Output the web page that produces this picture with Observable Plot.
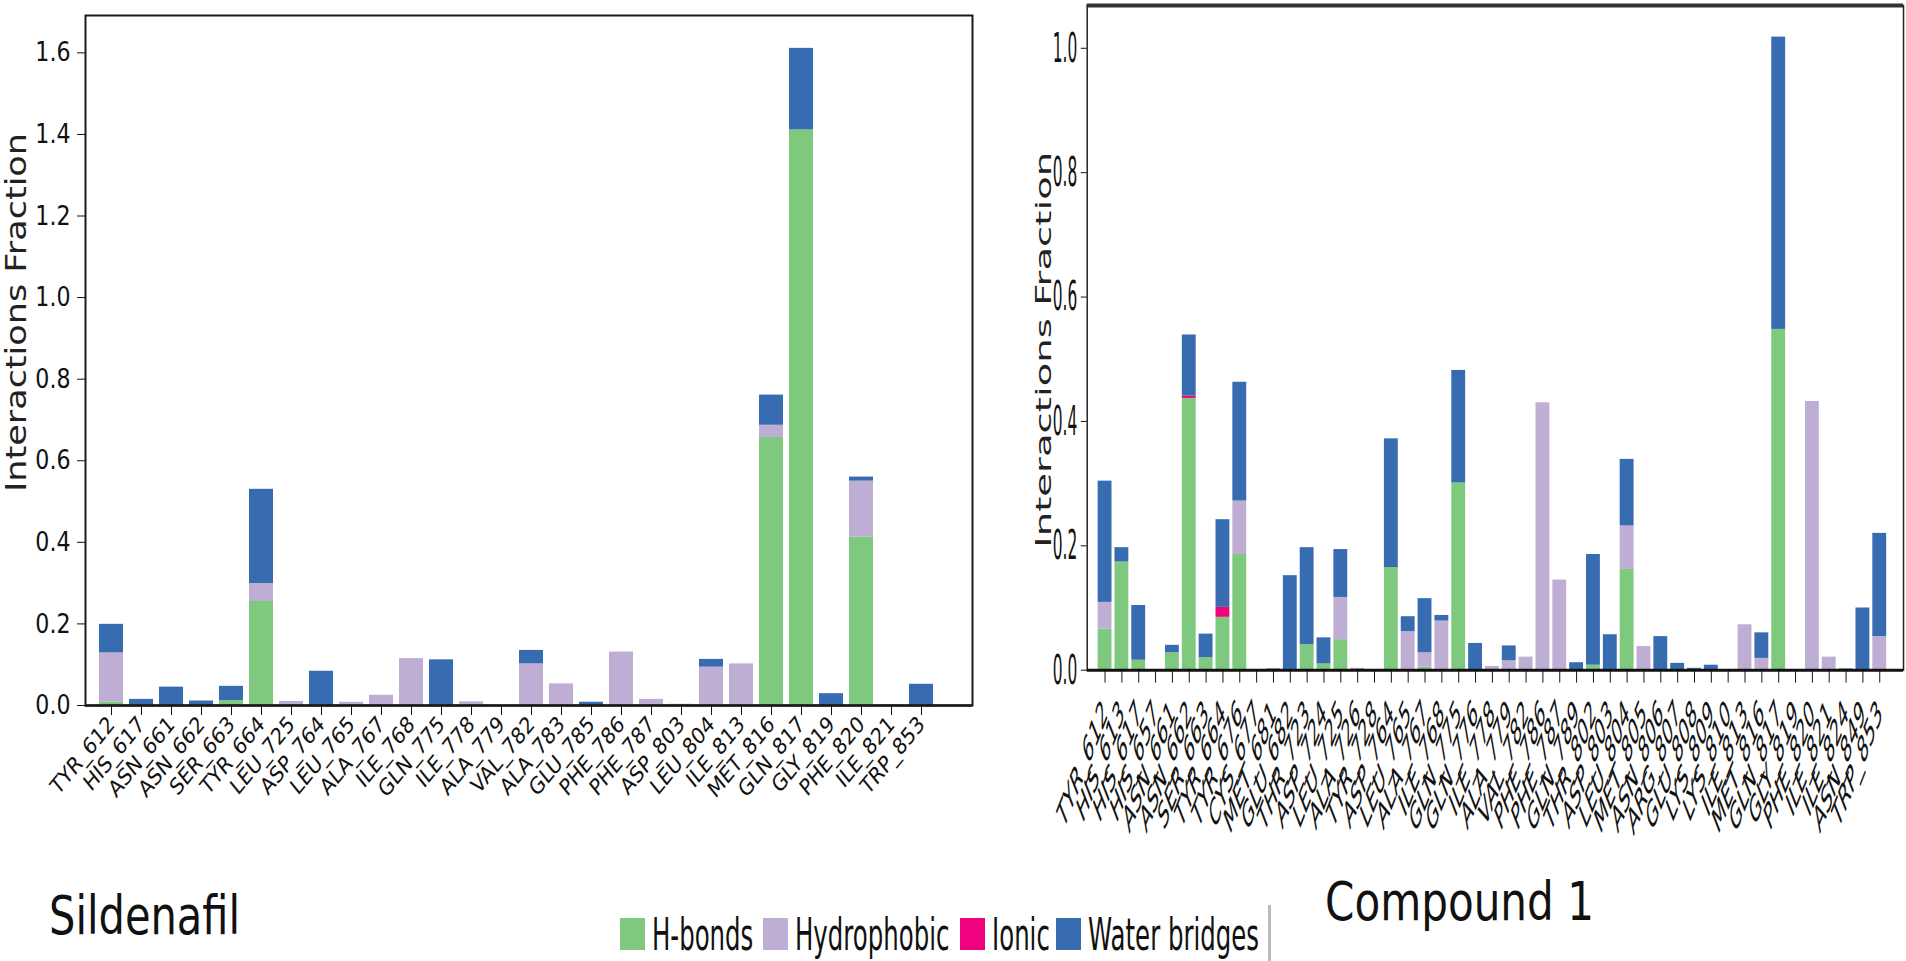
<!DOCTYPE html>
<html><head><meta charset="utf-8">
<script src="https://cdn.jsdelivr.net/npm/d3@7"></script>
<script src="https://cdn.jsdelivr.net/npm/@observablehq/plot@0.6"></script>
<style>
html,body{margin:0;padding:0;background:#fff;overflow:hidden;}
#root{position:relative;width:1906px;height:961px;overflow:hidden;background:#fff;font-family:"DejaVu Sans",sans-serif;}
#left{position:absolute;left:0;top:0;}
#right{position:absolute;left:950px;top:0;}
#bottom{position:absolute;left:0;top:860px;}
svg{overflow:visible;}
</style></head><body>
<div id="root"><div id="left"></div><div id="right"></div><div id="bottom"></div></div>
<script>
// ---------- data ----------
const interactionTypes = ["H-bonds", "Hydrophobic", "Ionic", "Water bridges"];
const typeColors = ["#7fc97f", "#beaed4", "#f0027f", "#386cb0"];
const yAxisTitle = "Interactions Fraction";
const chartTitles = ["Sildenafil", "Compound 1"];

const yTicksSildenafil = [0, 0.2, 0.4, 0.6, 0.8, 1.0, 1.2, 1.4, 1.6];
const yTicksCompound = [0, 0.2, 0.4, 0.6, 0.8, 1.0];

const sildenafilResidues = ["TYR_612","HIS_617","ASN_661","ASN_662","SER_663","TYR_664","LEU_725","ASP_764","LEU_765","ALA_767","ILE_768","GLN_775","ILE_778","ALA_779","VAL_782","ALA_783","GLU_785","PHE_786","PHE_787","ASP_803","LEU_804","ILE_813","MET_816","GLN_817","GLY_819","PHE_820","ILE_821","TRP_853"];
const sildenafilHbonds =      [0.008,0,0,0,0.012,0.255,0,0,0,0,0,0,0,0,0,0,0,0,0,0,0,0,0.657,1.411,0,0.413,0,0];
const sildenafilHydrophobic = [0.121,0,0,0,0,0.044,0.010,0,0.008,0.025,0.115,0,0.009,0,0.102,0.053,0,0.131,0.015,0.003,0.094,0.102,0.030,0,0,0.137,0.002,0];
const sildenafilIonic =       [0,0,0,0,0,0,0,0,0,0,0,0,0,0,0,0,0,0,0,0,0,0,0,0,0,0,0,0];
const sildenafilWater =       [0.070,0.015,0.045,0.011,0.035,0.231,0,0.084,0,0,0,0.112,0,0,0.033,0,0.008,0,0,0,0.019,0,0.074,0.200,0.029,0.010,0,0.052];

const compoundResidues = ["TYR_612","HIS_613","HIS_617","HIS_657","ASN_661","ASN_662","SER_663","TYR_664","TYR_676","CYS_677","MET_681","GLU_682","THR_723","ASP_724","LEU_725","ALA_726","TYR_728","ASP_764","LEU_765","ALA_767","ILE_768","GLN_775","GLN_776","ILE_778","ALA_779","VAL_782","PHE_786","PHE_787","GLN_789","THR_802","ASP_803","LEU_804","MET_805","ASN_806","ARG_807","GLU_808","LYS_809","LYS_810","ILE_813","MET_816","GLN_817","GLY_819","PHE_820","ILE_821","ILE_824","ASN_849","TRP_853"];
const compoundHbonds =      [0.066,0.174,0.016,0,0.028,0.437,0.020,0.085,0.186,0,0,0,0.041,0.010,0.049,0,0,0.165,0,0.005,0,0.301,0,0,0,0,0,0,0,0.008,0,0.162,0,0,0,0,0,0,0,0,0.548,0,0,0,0,0,0];
const compoundHydrophobic = [0.043,0,0,0,0,0,0,0,0.086,0,0,0,0,0,0.068,0.003,0,0,0.062,0.023,0.079,0,0,0.006,0.015,0.021,0.430,0.145,0,0,0,0.070,0.038,0,0,0,0,0,0.073,0.019,0,0,0.432,0.021,0,0,0.054];
const compoundIonic =       [0,0,0,0,0,0.004,0,0.016,0,0,0,0,0,0,0,0,0,0,0,0,0,0,0,0,0,0,0,0,0,0,0,0,0,0,0,0,0,0,0,0,0,0,0,0,0,0,0];
const compoundWater =       [0.195,0.023,0.088,0,0.012,0.098,0.038,0.141,0.191,0,0.002,0.152,0.156,0.042,0.077,0,0,0.207,0.024,0.087,0.009,0.181,0.043,0,0.024,0,0,0,0.012,0.178,0.057,0.107,0,0.054,0.011,0.003,0.008,0,0,0.041,0.470,0,0,0,0.002,0.100,0.166];

// ---------- helpers ----------
function toLong(residues, series) {
  const rows = [];
  residues.forEach((r, i) => {
    interactionTypes.forEach((t, k) => rows.push({residue: r, type: t, value: series[k][i]}));
  });
  return rows;
}
function squeezeText(t, sx) {
  let tr = t.getAttribute("transform") || "";
  if (tr.includes("rotate(")) tr = tr.replace("rotate(", `scale(${sx},1) rotate(`);
  else tr = tr + ` scale(${sx},1)`;
  t.setAttribute("transform", tr);
}
function squeeze(svg, label, sx) {
  svg.querySelectorAll(`g[aria-label="${label}"] text`).forEach(t => squeezeText(t, sx));
}
function squeezeByContent(svg, content, sx) {
  svg.querySelectorAll("text").forEach(t => { if (t.textContent === content) squeezeText(t, sx); });
}
function totals(series, n) {
  return d3.range(n).map(i => d3.sum(series, s => s[i]));
}

// ---------- Sildenafil chart ----------
{
  const series = [sildenafilHbonds, sildenafilHydrophobic, sildenafilIonic, sildenafilWater];
  const data = toLong(sildenafilResidues, series);
  const ymax = d3.max(totals(series, sildenafilResidues.length)) * 1.05;
  const chart = Plot.plot({
    width: 990, height: 800,
    marginLeft: 85, marginRight: 18, marginTop: 15, marginBottom: 95,
    style: {fontFamily: "DejaVu Sans", background: "transparent", color: "#111"},
    x: {type: "band", domain: sildenafilResidues, range: [87.7, 944.5], paddingInner: 0.2, paddingOuter: 0.1, axis: null},
    y: {domain: [0, ymax], axis: null},
    color: {domain: interactionTypes, range: typeColors},
    marks: [
      Plot.barY(data, {x: "residue", y: "value", fill: "type", order: interactionTypes}),
      Plot.frame({stroke: "#1a1a1a", strokeWidth: 2}),
      Plot.ruleY([0], {stroke: "#1a1a1a", strokeWidth: 2.5}),
      Plot.axisY({ticks: yTicksSildenafil, tickFormat: ".1f", tickSize: 8, tickPadding: 7, fontSize: 27, label: null, stroke: "#111"}),
      Plot.axisX({tickSize: 10, tickPadding: 5, tickRotate: -45, fontSize: 23, label: null, textAnchor: "end", lineAnchor: "middle", stroke: "#111"}),
      Plot.text([yAxisTitle], {frameAnchor: "left", textAnchor: "middle", lineAnchor: "middle", dx: -69, dy: -48, rotate: -90, fontSize: 35, fill: "#222"})
    ]
  });
  document.getElementById("left").appendChild(chart);
  squeeze(chart, "y-axis tick label", 0.82);
  squeeze(chart, "x-axis tick label", 0.82);
  squeezeByContent(chart, yAxisTitle, 0.82);
}

// ---------- Compound 1 chart ----------
{
  const series = [compoundHbonds, compoundHydrophobic, compoundIonic, compoundWater];
  const data = toLong(compoundResidues, series);
  const ymax = d3.max(totals(series, compoundResidues.length)) * 1.05;
  const chart = Plot.plot({
    width: 965, height: 840,
    marginLeft: 138, marginRight: 3, marginTop: 5, marginBottom: 164,
    style: {fontFamily: "DejaVu Sans", background: "transparent", color: "#111"},
    x: {type: "band", domain: compoundResidues, range: [138.3, 955.6], paddingInner: 0.2, paddingOuter: 0.1, axis: null},
    y: {domain: [0, ymax], axis: null},
    color: {domain: interactionTypes, range: typeColors},
    marks: [
      Plot.barY(data, {x: "residue", y: "value", fill: "type", order: interactionTypes}),
      Plot.frame({stroke: "#222", strokeWidth: 1.5}),
      Plot.ruleY([ymax], {stroke: "#333", strokeWidth: 4}),
      Plot.ruleY([0], {stroke: "#111", strokeWidth: 3}),
      Plot.axisY({ticks: yTicksCompound, tickFormat: ".1f", tickSize: 6, tickPadding: 4, fontSize: 42, label: null, stroke: "#111"}),
      Plot.axisX({tickSize: 13, tickPadding: 24, tickRotate: -45, fontSize: 38, label: null, textAnchor: "end", lineAnchor: "middle", stroke: "#111"}),
      Plot.text([yAxisTitle], {frameAnchor: "left", textAnchor: "middle", lineAnchor: "middle", dx: -43, dy: 12, rotate: -90, fontSize: 39, fill: "#222"})
    ]
  });
  document.getElementById("right").appendChild(chart);
  squeeze(chart, "y-axis tick label", 0.37);
  squeeze(chart, "x-axis tick label", 0.39);
  squeezeByContent(chart, yAxisTitle, 0.53);
}

// ---------- titles & legend ----------
{
  const svg = d3.create("svg").attr("width", 1906).attr("height", 101)
    .attr("font-family", "DejaVu Sans");
  const titleX = [49, 1325], titleY = [74, 60], titleScale = [0.77, 0.78];
  chartTitles.forEach((t, i) => {
    svg.append("text").attr("transform", `translate(${titleX[i]},${titleY[i]}) scale(${titleScale[i]},1)`)
      .attr("font-size", 54).attr("fill", "#111").text(t);
  });
  const legendScale = 0.555;
  const textW = [101, 155, 54, 173];
  let x = 620;
  const g = svg.append("g").attr("aria-label", "legend");
  interactionTypes.forEach((t, i) => {
    g.append("rect").attr("x", x).attr("y", 58).attr("width", 25).attr("height", 32).attr("fill", typeColors[i]);
    x += 32;
    g.append("text").attr("transform", `translate(${x},90) scale(${legendScale},1)`)
      .attr("font-size", 44).attr("fill", "#111").text(t);
    x += textW[i] + 10;
  });
  g.append("rect").attr("x", x - 3).attr("y", 45).attr("width", 3).attr("height", 56).attr("fill", "#bbb");
  document.getElementById("bottom").appendChild(svg.node());
}
</script>
</body></html>
